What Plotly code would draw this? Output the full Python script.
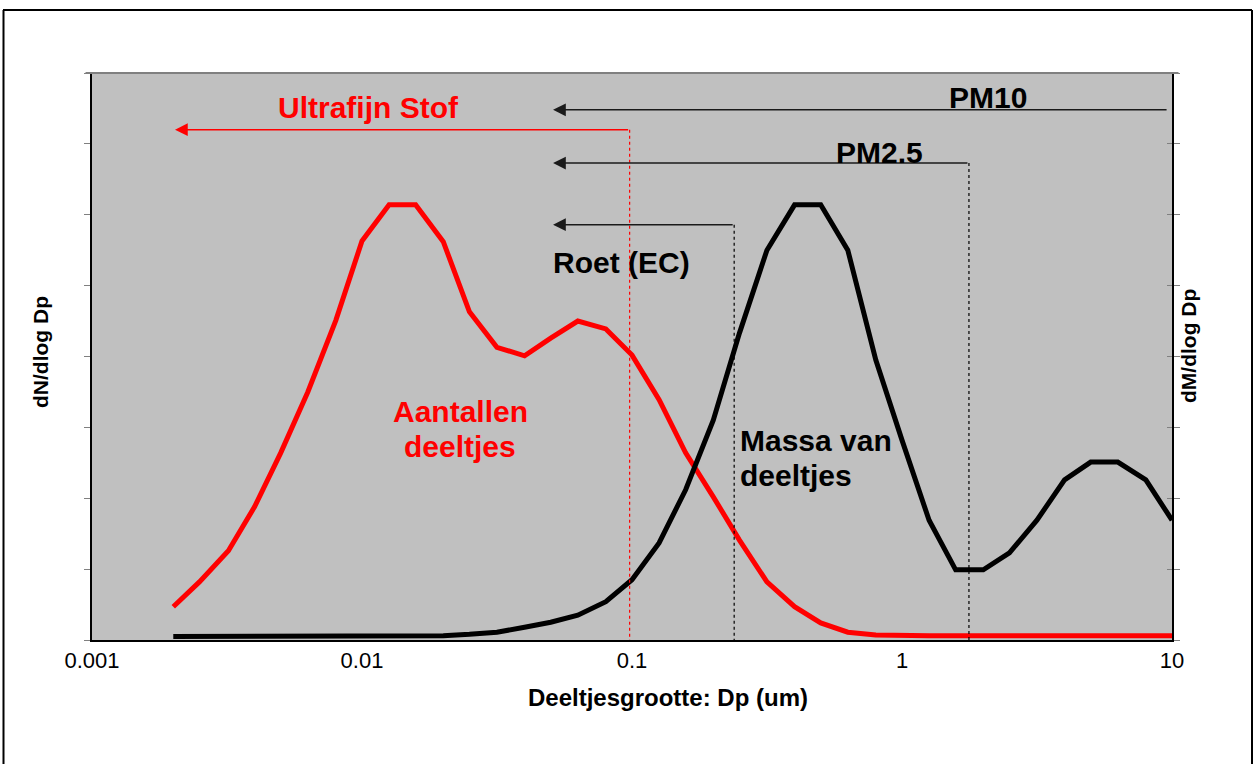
import math
import plotly.graph_objects as go

# ---- data ----
size_um = [0.002, 0.0025, 0.0032, 0.004, 0.005, 0.0063, 0.008, 0.01, 0.0126, 0.0158,
           0.02, 0.025, 0.0316, 0.04, 0.05, 0.063, 0.08, 0.1, 0.126, 0.158,
           0.2, 0.25, 0.316, 0.4, 0.5, 0.63, 0.8, 1.0, 1.26, 1.58,
           2.0, 2.5, 3.16, 4.0, 5.0, 6.3, 8.0, 10.0]
aantallen = [0.47, 0.82, 1.26, 1.88, 2.64, 3.50, 4.51, 5.63, 6.14, 6.14,
             5.62, 4.63, 4.13, 4.01, 4.26, 4.50, 4.39, 4.02, 3.39, 2.64,
             2.02, 1.41, 0.82, 0.47, 0.24, 0.11, 0.07, 0.06, 0.06, 0.06,
             0.06, 0.06, 0.06, 0.06, 0.06, 0.06, 0.06, 0.06]
massa = [0.05, 0.05, 0.05, 0.05, 0.05, 0.05, 0.05, 0.05, 0.05, 0.05,
         0.06, 0.08, 0.11, 0.18, 0.25, 0.35, 0.54, 0.85, 1.37, 2.12,
         3.10, 4.33, 5.50, 6.14, 6.14, 5.50, 3.95, 2.82, 1.69, 0.99,
         0.99, 1.23, 1.69, 2.26, 2.51, 2.51, 2.26, 1.69]
x_tickvals = [0.001, 0.01, 0.1, 1, 10]
x_ticktext = ["0.001", "0.01", "0.1", "1", "10"]

# size-class markers: cut size and arrow level
pm10_cut, pm10_level = 9.67, 7.48
pm25_cut, pm25_level = 1.77, 6.73
roet_cut, roet_level = 0.239, 5.86
ufp_cut, ufp_level = 0.098, 7.20
arrow_tip_black = 0.051
arrow_tip_red = 0.00203

FONT = "Arial, Liberation Sans, sans-serif"
L = math.log10

fig = go.Figure()
fig.add_trace(go.Scatter(x=size_um, y=aantallen, mode="lines",
                         line=dict(color="#FF0000", width=5), showlegend=False,
                         hoverinfo="skip"))
fig.add_trace(go.Scatter(x=size_um, y=massa, mode="lines",
                         line=dict(color="#000000", width=5), showlegend=False,
                         hoverinfo="skip"))
fig.add_trace(go.Scatter(x=[None], y=[None], yaxis="y2", showlegend=False, hoverinfo="skip"))
fig.add_trace(go.Scatter(x=[None], y=[None], yaxis="y3", showlegend=False, hoverinfo="skip"))

def px(xp):
    return (xp - 92) / 1080
def py(yp):
    return (640 - yp) / 567

shapes = []
# dotted vertical drop lines (shapes take raw data values on log axes)
for cut, lvl, col in [(pm25_cut, pm25_level, "#000000"),
                      (roet_cut, roet_level, "#000000"),
                      (ufp_cut, ufp_level, "#FF0000")]:
    shapes.append(dict(type="line", xref="x", yref="y", x0=cut, x1=cut,
                       y0=lvl, y1=0, line=dict(color=col, width=1.2, dash="dot")))
# top gray border of plot area
shapes.append(dict(type="line", xref="paper", yref="paper", x0=-0.006, x1=1.006, y0=1, y1=1,
                   line=dict(color="#808080", width=2)))
# outer chart border (left, top, right)
for (x0, y0, x1, y1) in [(3.5, 10, 3.5, 770), (3, 10, 1252, 10), (1252, 10, 1252, 770)]:
    shapes.append(dict(type="line", xref="paper", yref="paper",
                       x0=px(x0), x1=px(x1), y0=py(y0), y1=py(y1),
                       line=dict(color="#000000", width=2)))

ann = []
def arrow(tip, cut, lvl, col):
    ann.append(dict(x=L(tip), y=lvl, ax=L(cut), ay=lvl, xref="x", yref="y",
                    axref="x", ayref="y", text="", showarrow=True,
                    arrowhead=2, arrowsize=1.7, arrowwidth=1.5, arrowcolor=col,
                    standoff=0, startstandoff=0))

arrow(arrow_tip_black, pm10_cut, pm10_level, "#1a1a1a")
arrow(arrow_tip_black, pm25_cut, pm25_level, "#1a1a1a")
arrow(arrow_tip_black, roet_cut, roet_level, "#1a1a1a")
arrow(arrow_tip_red, ufp_cut, ufp_level, "#FF0000")

def label(text, xp, yp, color="#000000", size=30, xanchor="center", angle=0):
    ann.append(dict(x=px(xp), y=py(yp), xref="paper", yref="paper", text="<b>%s</b>" % text,
                    showarrow=False, xanchor=xanchor, yanchor="middle", textangle=angle,
                    font=dict(family=FONT, size=size, color=color)))

label("Ultrafijn Stof", 368, 107, "#FF0000")
label("PM10", 988, 97)
label("PM2.5", 879, 152)
label("Roet (EC)", 551, 262, xanchor="left")
label("Aantallen", 460, 411, "#FF0000")
label("deeltjes", 460, 446, "#FF0000")
label("Massa van", 738, 440, xanchor="left")
label("deeltjes", 738, 475, xanchor="left")
label("Deeltjesgrootte: Dp (um)", 668, 697, size=24)
label("dN/dlog Dp", 40, 352, size=21, angle=-90)
label("dM/dlog Dp", 1188, 346, size=21, angle=-90)

fig.update_layout(
    width=1254, height=764,
    margin=dict(l=92, r=82, t=73, b=124),
    paper_bgcolor="#FFFFFF", plot_bgcolor="#C0C0C0",
    font=dict(family=FONT, color="#000000"),
    shapes=shapes, annotations=ann, showlegend=False,
    xaxis=dict(type="log", range=[-3, 1], tickvals=x_tickvals, ticktext=x_ticktext,
               ticks="", showgrid=False, zeroline=False, showline=True,
               linecolor="#000000", linewidth=2, tickfont=dict(size=22, color="#000000")),
    yaxis=dict(range=[0, 8], dtick=1, tick0=0, ticks="outside", ticklen=6, tickcolor="#808080",
               tickwidth=1, showticklabels=False, showgrid=False, zeroline=False,
               showline=True, linecolor="#000000", linewidth=2),
    yaxis2=dict(range=[0, 8], dtick=1, tick0=0, overlaying="y", side="right", anchor="x",
                ticks="outside", ticklen=6, tickcolor="#808080", tickwidth=1,
                showticklabels=False, showgrid=False, zeroline=False,
                showline=True, linecolor="#000000", linewidth=2),
    yaxis3=dict(range=[0, 8], dtick=1, tick0=0, overlaying="y", side="right", anchor="x",
                ticks="inside", ticklen=5, tickcolor="#808080", tickwidth=1,
                showticklabels=False, showgrid=False, zeroline=False, showline=False),
)

fig.write_html("out.html", config={"displayModeBar": False},
               post_script="document.body.style.margin='0';document.body.style.overflow='hidden';")
